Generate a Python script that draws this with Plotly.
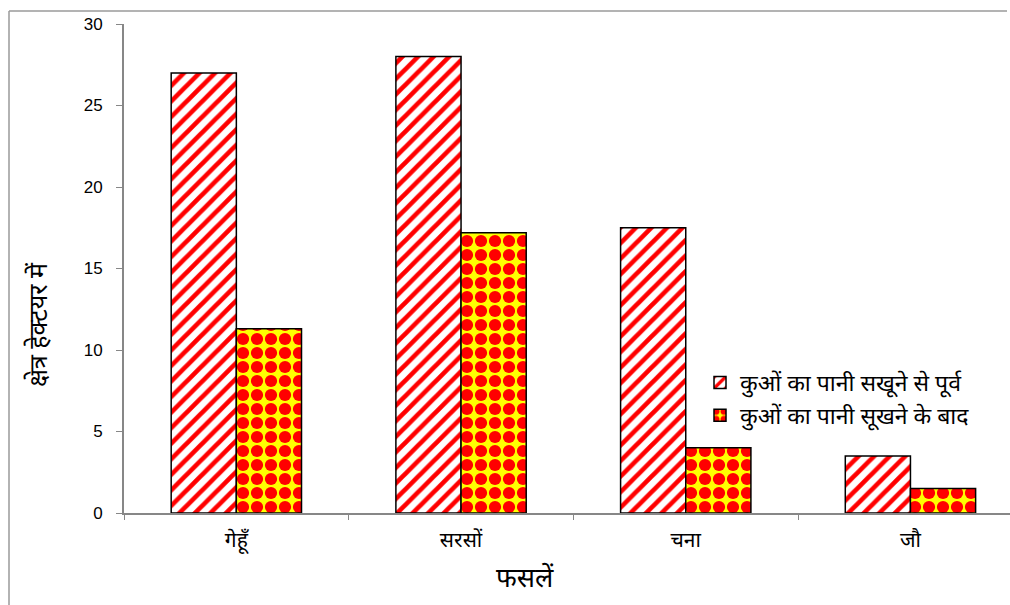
import plotly.graph_objects as go

# Crop area (hectares) before and after the wells dried up
crops = ["गेहूँ", "सरसों", "चना", "जौ"]
before_dry = [27, 28, 17.5, 3.5]
after_dry = [11.3, 17.2, 4, 1.5]
series_names = ["कुओं का पानी सखूने से पूर्व", "कुओं का पानी सूखने के बाद"]
y_ticks = [0, 5, 10, 15, 20, 25, 30]

W, H = 1010, 605
L, R, T, B = 124, 0, 24, 92
pw, ph = W - L - R, H - T - B


def px_x(x):
    return (x - L) / pw


def px_y(y):
    return (H - B - y) / ph


deva = "Mangal, 'Noto Sans Devanagari', 'Lohit Devanagari', 'Noto Sans', sans-serif"
num_font = "Arial, 'Liberation Sans', sans-serif"

fig = go.Figure()
fig.add_trace(go.Bar(
    x=crops, y=before_dry, name=series_names[0],
    marker=dict(
        color="white",
        line=dict(color="black", width=1.5),
        pattern=dict(shape="/", fgcolor="#FF0000", bgcolor="white",
                     fgopacity=1, size=11, solidity=0.42),
    ),
))
fig.add_trace(go.Bar(
    x=crops, y=after_dry, name=series_names[1],
    marker=dict(
        color="#FFFF00",
        line=dict(color="black", width=1.5),
        pattern=dict(shape=".", fgcolor="#FF0000", bgcolor="#FFFF00",
                     fgopacity=1, size=14, solidity=0.6),
    ),
))

# category width in px ~224.7; axis runs past the right edge
cat_px = 224.7
x_hi = -0.5 + pw / cat_px

fig.update_layout(
    width=W, height=H,
    margin=dict(l=L, r=R, t=T, b=B),
    paper_bgcolor="white", plot_bgcolor="white",
    barmode="group", bargap=0.42, bargroupgap=0,
    showlegend=True,
    legend=dict(
        x=px_x(700), y=px_y(361), xanchor="left", yanchor="top",
        font=dict(family=deva, size=23, color="black"),
        bgcolor="rgba(0,0,0,0)", itemwidth=30, tracegroupgap=0,
    ),
    xaxis=dict(
        range=[-0.5, x_hi], showline=True, linecolor="#878787", linewidth=2,
        ticks="outside", tickson="boundaries", ticklen=5, tickcolor="#878787",
        tickfont=dict(family=deva, size=21, color="black"),
        showgrid=False, zeroline=False, ticklabelstandoff=7,
    ),
    yaxis=dict(
        range=[0, 30], tickvals=y_ticks, showline=True, linecolor="#878787",
        linewidth=2, ticks="outside", ticklen=6, tickcolor="#878787",
        tickfont=dict(family=num_font, size=17, color="black"),
        showgrid=False, zeroline=False, ticklabelstandoff=10,
    ),
    shapes=[
        dict(type="line", xref="paper", yref="paper",
             x0=px_x(9), x1=px_x(9), y0=px_y(11), y1=px_y(H),
             line=dict(color="#9a9a9a", width=1.5)),
        dict(type="line", xref="paper", yref="paper",
             x0=px_x(9), x1=px_x(W - 3), y0=px_y(11), y1=px_y(11),
             line=dict(color="#9a9a9a", width=1.5)),
    ],
    annotations=[
        dict(text="क्षेत्र हेक्टयर में", xref="paper", yref="paper",
             x=px_x(40), y=px_y(325), xanchor="center", yanchor="middle",
             textangle=-90, showarrow=False,
             font=dict(family=deva, size=25, color="black")),
        dict(text="फसलें", xref="paper", yref="paper",
             x=px_x(525), y=px_y(580), xanchor="center", yanchor="middle",
             showarrow=False,
             font=dict(family=deva, size=27, color="black")),
    ],
)

fig.write_html("out.html")
